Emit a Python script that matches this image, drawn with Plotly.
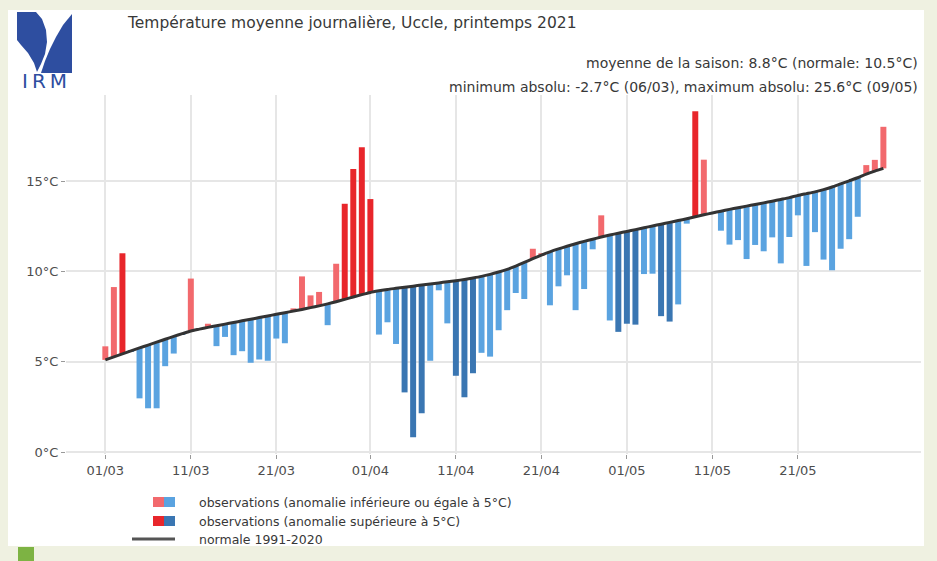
import plotly.graph_objects as go
import pandas as pd

# ---------------- data ----------------
dates = pd.date_range("2021-03-01", periods=92, freq="D")

normal = [
    5.10, 5.27, 5.43, 5.60, 5.76, 5.92, 6.08, 6.24, 6.40, 6.55,
    6.70, 6.80, 6.90, 6.99, 7.08, 7.17, 7.26, 7.35, 7.44, 7.53,
    7.62, 7.71, 7.80, 7.89, 7.99, 8.09, 8.20, 8.32, 8.45, 8.58,
    8.71, 8.83, 8.92, 9.00, 9.06, 9.12, 9.18, 9.24, 9.30, 9.36,
    9.42, 9.48, 9.55, 9.63, 9.72, 9.83, 9.96, 10.11, 10.29, 10.49,
    10.70, 10.90, 11.08, 11.24, 11.39, 11.53, 11.66, 11.78, 11.90, 12.01,
    12.11, 12.21, 12.31, 12.41, 12.51, 12.61, 12.71, 12.81, 12.91, 13.02,
    13.13, 13.23, 13.33, 13.43, 13.52, 13.61, 13.70, 13.79, 13.88, 13.98,
    14.08, 14.20, 14.30, 14.40, 14.52, 14.67, 14.84, 15.01, 15.18, 15.38,
    15.55, 15.70,
]

observed = [
    5.85, 9.13, 11.00, 5.55, 2.97, 2.42, 2.42, 4.75, 5.45, 6.50,
    9.60, 6.85, 7.10, 5.86, 6.37, 5.36, 5.58, 4.94, 5.12, 5.05,
    6.28, 6.02, 7.95, 9.72, 8.67, 8.86, 7.02, 10.42, 13.74, 15.67,
    16.87, 14.00, 6.50, 7.18, 5.98, 3.30, 0.82, 2.15, 5.05, 8.95,
    7.12, 4.22, 3.03, 4.36, 5.49, 5.28, 6.74, 7.85, 8.80, 8.47,
    11.25, 11.00, 8.12, 9.17, 9.78, 7.85, 9.02, 11.22, 13.10, 7.28,
    6.65, 7.10, 7.05, 9.85, 9.87, 7.52, 7.22, 8.17, 12.64, 18.86,
    16.18, 13.20, 12.25, 11.48, 11.73, 10.68, 11.46, 11.11, 11.88, 10.44,
    11.90, 13.10, 10.30, 12.17, 10.65, 10.06, 11.25, 11.78, 13.02, 15.88,
    16.17, 18.00,
]

tick_dates = ["2021-03-01", "2021-03-11", "2021-03-21", "2021-04-01", "2021-04-11",
              "2021-04-21", "2021-05-01", "2021-05-11", "2021-05-21"]
tick_labels = ["01/03", "11/03", "21/03", "01/04", "11/04", "21/04", "01/05", "11/05", "21/05"]
y_ticks = [0, 5, 10, 15]
y_tick_labels = ["0°C", "5°C", "10°C", "15°C"]

title_text = "Température moyenne journalière, Uccle, printemps 2021"
subtitle_1 = "moyenne de la saison: 8.8°C (normale: 10.5°C)"
subtitle_2 = "minimum absolu: -2.7°C (06/03), maximum absolu: 25.6°C (09/05)"
legend_labels = [
    "observations (anomalie inférieure ou égale à 5°C)",
    "observations (anomalie supérieure à 5°C)",
    "normale 1991-2020",
]
logo_text = "I\u2009R\u2009M"
threshold = 5.0

# ---------------- styling ----------------
LIGHT_RED, DARK_RED = "#F2696D", "#E8262B"
LIGHT_BLUE, DARK_BLUE = "#5AA3E0", "#3A76B2"
LINE_COL = "#333333"
TXT = "#383838"
FONT = "DejaVu Sans"

W, H = 937, 561
ML, MR, MT, MB = 66, 16, 95, 107
PW, PH = W - ML - MR, H - MT - MB


def px(x):
    return (x - ML) / PW


def py(y):
    return (H - MB - y) / PH


anom = [o - n for o, n in zip(observed, normal)]


def colour(a):
    if a > threshold:
        return DARK_RED
    if a > 0:
        return LIGHT_RED
    if a < -threshold:
        return DARK_BLUE
    return LIGHT_BLUE


small_idx = [i for i, a in enumerate(anom) if abs(a) <= threshold]
big_idx = [i for i, a in enumerate(anom) if abs(a) > threshold]
bar_w = 0.7 * 86400000

fig = go.Figure()
for idx, name in [(small_idx, legend_labels[0]), (big_idx, legend_labels[1])]:
    fig.add_trace(go.Bar(
        x=[dates[i] for i in idx],
        y=[anom[i] for i in idx],
        base=[normal[i] for i in idx],
        width=bar_w,
        marker=dict(color=[colour(anom[i]) for i in idx], line=dict(width=0)),
        name=name, showlegend=False,
    ))
fig.add_trace(go.Scatter(
    x=dates, y=normal, mode="lines",
    line=dict(color=LINE_COL, width=3, shape="spline", smoothing=0.6),
    name=legend_labels[2], showlegend=False,
))

start = pd.Timestamp("2021-03-01")
x_range = [(start - pd.Timedelta(days=4.6)).isoformat(),
           (start + pd.Timedelta(days=95.4)).isoformat()]

shapes = []
# white card
shapes.append(dict(type="rect", xref="paper", yref="paper", layer="below",
                   x0=px(8), x1=px(924), y0=py(546), y1=py(10),
                   fillcolor="white", line=dict(width=0)))
# green square
shapes.append(dict(type="rect", xref="paper", yref="paper",
                   x0=px(18), x1=px(34), y0=py(561), y1=py(547),
                   fillcolor="#7DB343", line=dict(width=0)))


def path(points):
    return "M " + " L ".join(f"{px(x):.5f},{py(y):.5f}" for x, y in points) + " Z"


LOGO = "#2E4EA0"
left_logo = [(17, 12), (36, 12), (42, 19), (46, 30), (47, 42), (45, 54), (41, 64), (37, 72),
             (34, 63), (28, 53), (21, 45), (17, 40)]
right_logo = [(72, 14), (72, 73), (41, 73), (45, 61), (50, 49), (56, 37), (63, 25)]
for pts in (left_logo, right_logo):
    shapes.append(dict(type="path", xref="paper", yref="paper", path=path(pts),
                       fillcolor=LOGO, line=dict(width=0)))

# legend swatches
rows_y = [502, 521, 539]
shapes += [
    dict(type="rect", xref="paper", yref="paper", x0=px(153), x1=px(164),
         y0=py(rows_y[0] + 5), y1=py(rows_y[0] - 5), fillcolor=LIGHT_RED, line=dict(width=0)),
    dict(type="rect", xref="paper", yref="paper", x0=px(164), x1=px(175),
         y0=py(rows_y[0] + 5), y1=py(rows_y[0] - 5), fillcolor=LIGHT_BLUE, line=dict(width=0)),
    dict(type="rect", xref="paper", yref="paper", x0=px(153), x1=px(164),
         y0=py(rows_y[1] + 5), y1=py(rows_y[1] - 5), fillcolor=DARK_RED, line=dict(width=0)),
    dict(type="rect", xref="paper", yref="paper", x0=px(164), x1=px(175),
         y0=py(rows_y[1] + 5), y1=py(rows_y[1] - 5), fillcolor=DARK_BLUE, line=dict(width=0)),
    dict(type="line", xref="paper", yref="paper", x0=px(132), x1=px(175),
         y0=py(rows_y[2]), y1=py(rows_y[2]), line=dict(color="#555555", width=3)),
]

annotations = [
    dict(text=title_text, x=px(125), y=py(23), xanchor="left", yanchor="middle",
         font=dict(family=FONT, size=15.5, color=TXT)),
    dict(text=subtitle_1, x=px(920), y=py(63), xanchor="right", yanchor="middle",
         font=dict(family=FONT, size=14, color=TXT)),
    dict(text=subtitle_2, x=px(920), y=py(87), xanchor="right", yanchor="middle",
         font=dict(family=FONT, size=14, color=TXT)),
    dict(text=logo_text, x=px(44.5), y=py(81), xanchor="center", yanchor="middle",
         font=dict(family=FONT, size=20, color=LOGO)),
]
for label, yy in zip(legend_labels, rows_y):
    annotations.append(dict(text=label, x=px(197), y=py(yy), xanchor="left", yanchor="middle",
                            font=dict(family=FONT, size=12.5, color=TXT)))
for a in annotations:
    a.update(xref="paper", yref="paper", showarrow=False)

fig.update_layout(
    width=W, height=H,
    margin=dict(l=ML, r=MR, t=MT, b=MB, pad=0),
    paper_bgcolor="#EFF1E1", plot_bgcolor="white",
    barmode="overlay",
    showlegend=False,
    shapes=shapes,
    annotations=annotations,
    xaxis=dict(
        type="date", range=x_range,
        tickvals=tick_dates, ticktext=tick_labels,
        showgrid=True, gridcolor="#E6E6E6", gridwidth=1.5,
        ticks="outside", ticklen=4, tickcolor="#999999",
        tickfont=dict(family=FONT, size=13, color="#4D4D4D"),
        zeroline=False, showline=False,
    ),
    yaxis=dict(
        range=[-0.11, 19.76],
        tickvals=y_ticks, ticktext=y_tick_labels,
        showgrid=True, gridcolor="#E6E6E6", gridwidth=1.5,
        ticks="outside", ticklen=4, tickcolor="#999999",
        tickfont=dict(family=FONT, size=13, color="#4D4D4D"),
        zeroline=False, showline=False,
    ),
)

fig.write_html(
    "out.html",
    config={"displayModeBar": False},
    post_script="document.body.style.margin='0';document.body.style.overflow='hidden';",
)
